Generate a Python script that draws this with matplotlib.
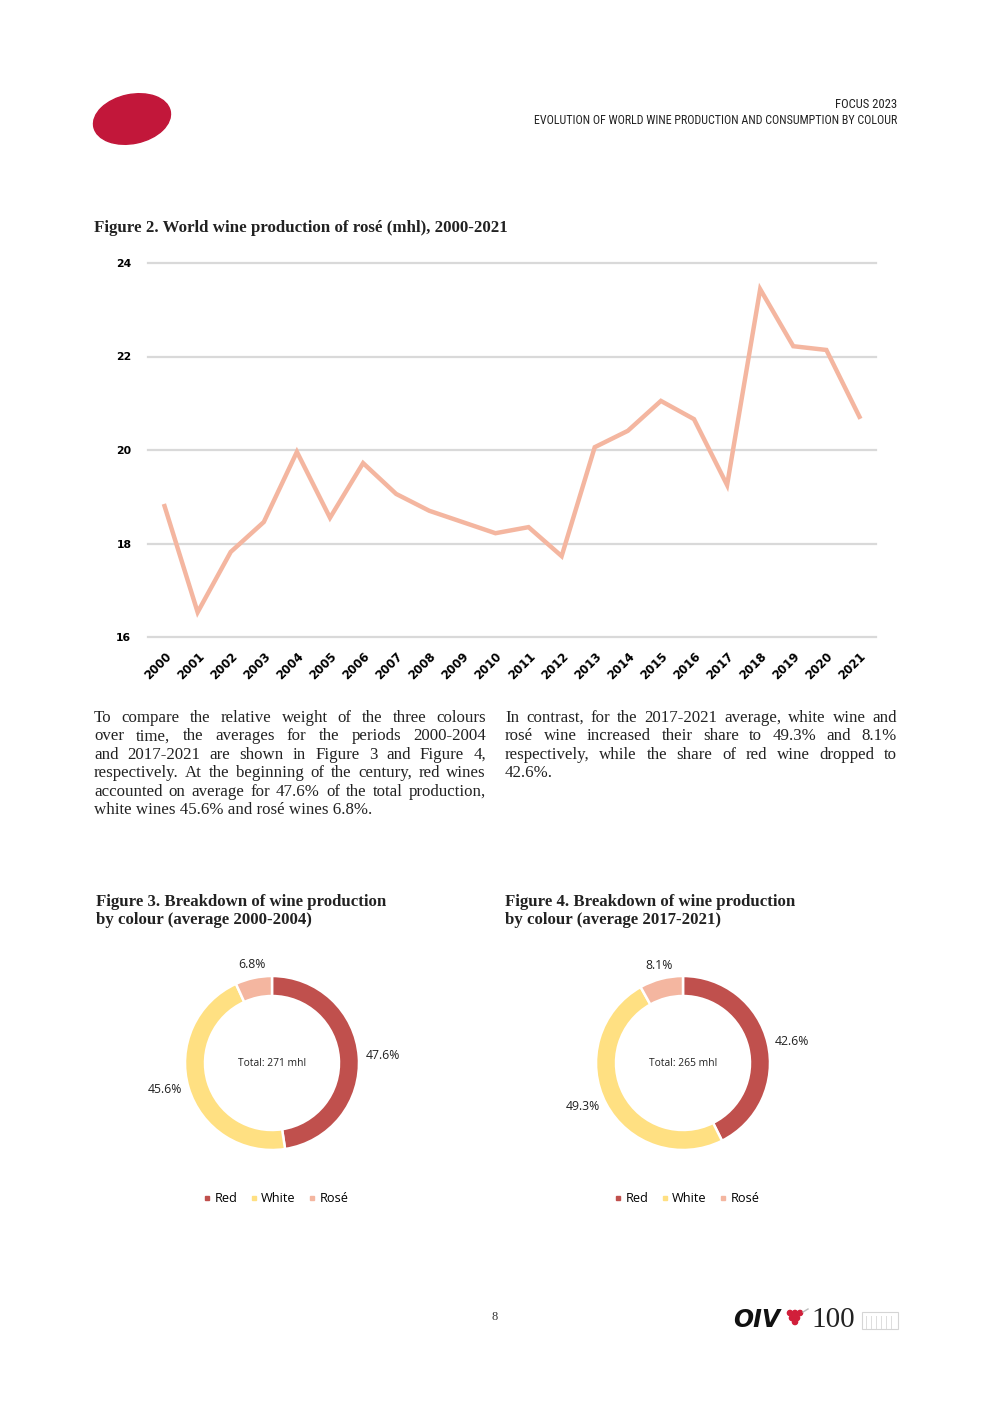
import matplotlib
matplotlib.use("Agg")
import numpy as np
import matplotlib.pyplot as plt
from matplotlib import font_manager
from matplotlib.patches import Ellipse, Circle, Rectangle
from matplotlib.lines import Line2D

###### DATA ######

years = ["2000", "2001", "2002", "2003", "2004", "2005", "2006", "2007", "2008", "2009", "2010",
         "2011", "2012", "2013", "2014", "2015", "2016", "2017", "2018", "2019", "2020", "2021"]
rose_mhl = [18.80, 16.53, 17.82, 18.46, 19.96, 18.55, 19.72, 19.06, 18.70, 18.46, 18.22,
            18.35, 17.73, 20.06, 20.41, 21.05, 20.66, 19.25, 23.44, 22.22, 22.14, 20.71]
y_ticks = [16, 18, 20, 22, 24]

colours = ["Red", "White", "Rosé"]
share_2000_2004 = [47.6, 45.6, 6.8]
share_2017_2021 = [42.6, 49.3, 8.1]
total_2000_2004 = "Total: 271 mhl"
total_2017_2021 = "Total: 265 mhl"

text_left = [
    "To compare the relative weight of the three colours",
    "over time, the averages for the periods 2000-2004",
    "and 2017-2021 are shown in Figure 3 and Figure 4,",
    "respectively. At the beginning of the century, red wines",
    "accounted on average for 47.6% of the total production,",
    "white wines 45.6% and rosé wines 6.8%.",
]
text_right = [
    "In contrast, for the 2017-2021 average, white wine and",
    "rosé wine increased their share to 49.3% and 8.1%",
    "respectively, while the share of red wine dropped to",
    "42.6%.",
]

###### STYLE ######

W, H = 992, 1403
RED, YELLOW, ROSE = "#C0504D", "#FFE082", "#F4B6A0"
GRID = "#D9D9D9"

ttf = font_manager.fontManager.ttflist
names = {f.name for f in ttf}

def pick(*cands):
    for c in cands:
        if c in names:
            return c
    return "DejaVu Sans"

SERIF = pick("Liberation Serif", "DejaVu Serif")
SANS = pick("Open Sans", "Lato", "DejaVu Sans")
if "Roboto Condensed" in names:
    NARROW, STRETCH = "Roboto Condensed", "normal"
elif "Liberation Sans Narrow" in names:
    NARROW, STRETCH = "Liberation Sans Narrow", "normal"
elif any("DejaVuSansCondensed" in f.fname for f in ttf):
    NARROW, STRETCH = "DejaVu Sans", "condensed"
else:
    NARROW, STRETCH = pick("Roboto", "DejaVu Sans"), "normal"

def px(x):
    return x / W

def py(y):
    return 1 - y / H

fig = plt.figure(figsize=(W / 100, H / 100), dpi=100)
fig.patch.set_facecolor("white")
renderer = fig.canvas.get_renderer()


def fit_text(x, y, s, width, **kw):
    # scale the font so the text spans the given pixel width
    t = fig.text(px(x), py(y), s, **kw)
    w = t.get_window_extent(renderer).width
    t.set_fontsize(t.get_fontsize() * width / w)
    return t


def justify(lines, x0, y0, width, dy, size, **kw):
    # shrink the font if a line would not fit with normal spaces
    for line in lines:
        t = fig.text(0, 0, line, fontsize=size, **kw)
        w = t.get_window_extent(renderer).width
        t.remove()
        if w > width * 0.985:
            size = size * width * 0.985 / w
    for i, line in enumerate(lines):
        y = y0 + i * dy
        if i == len(lines) - 1:
            fig.text(px(x0), py(y), line, va="center", fontsize=size, **kw)
            continue
        words = line.split()
        texts = [fig.text(0, 0, w, va="center", fontsize=size, **kw) for w in words]
        ws = [t.get_window_extent(renderer).width for t in texts]
        gap = (width - sum(ws)) / (len(words) - 1)
        x = x0
        for t, w in zip(texts, ws):
            t.set_position((px(x), py(y)))
            x += w + gap


###### HEADER ######

logo_ax = fig.add_axes([0, 0, 1, 1], zorder=-1)
logo_ax.set_xlim(0, W)
logo_ax.set_ylim(H, 0)
logo_ax.axis("off")
logo_ax.add_patch(Ellipse((132, 119), 78, 49, angle=-12, color="#C2173A"))

fit_text(897, 104, "FOCUS 2023", 62, ha="right", va="center", family=NARROW, fontsize=9,
         color="#222222", fontstretch=STRETCH)
fit_text(897, 120, "EVOLUTION OF WORLD WINE PRODUCTION AND CONSUMPTION BY COLOUR", 365,
         ha="right", va="center", family=NARROW, fontsize=9, color="#222222",
         fontstretch=STRETCH)

###### FIGURE 2: LINE ######

fit_text(94, 228, "Figure 2. World wine production of rosé (mhl), 2000-2021", 413,
         va="center", family=SERIF, fontweight="bold", fontsize=10.5, color="#222222")

ax = fig.add_axes([px(148), py(637), 728 / W, 374 / H])
x = range(len(years))
for t in y_ticks:
    ax.axhline(t, color=GRID, lw=1.6, zorder=0, clip_on=False)
ax.plot(x, rose_mhl, color=ROSE, lw=3.2, solid_joinstyle="miter", zorder=2)
ax.set_xlim(-0.5, len(years) - 0.5)
ax.set_ylim(16, 24)
ax.set_yticks(y_ticks)
ax.set_xticks(list(x))
ax.set_xticklabels(years, rotation=45, ha="right", va="top", rotation_mode="anchor",
                   fontweight="bold", fontsize=8.5, family="DejaVu Sans")
ax.set_yticklabels([str(t) for t in y_ticks], fontweight="bold", fontsize=7.8,
                   family="DejaVu Sans")
ax.tick_params(axis="both", length=0)
ax.tick_params(axis="y", pad=12)
ax.tick_params(axis="x", pad=9)
for s in ax.spines.values():
    s.set_visible(False)

###### BODY TEXT ######

justify(text_left, 94, 718, 392, 18.4, 12.2, family=SERIF, color="#222222")
justify(text_right, 505, 718, 392, 18.4, 12.2, family=SERIF, color="#222222")

###### FIGURES 3 & 4: DONUTS ######

def donut(cx, cy, shares, total, title, tx):
    t0 = fit_text(tx, 902, title[0], 290, va="center", family=SERIF, fontweight="bold",
                  fontsize=10.8, color="#222222")
    fig.text(px(tx), py(920), title[1], va="center", family=SERIF, fontweight="bold",
             fontsize=t0.get_fontsize(), color="#222222")
    size = 300
    r = 87
    a = fig.add_axes([px(cx - size / 2), py(cy + size / 2), size / W, size / H])
    wedges, _ = a.pie(shares, colors=[RED, YELLOW, ROSE], startangle=90, counterclock=False,
                      wedgeprops=dict(width=0.23, edgecolor="white", linewidth=1.8))
    # percentage labels just outside the ring, at the middle of each wedge
    for wdg, v in zip(wedges, shares):
        ang = np.deg2rad((wdg.theta1 + wdg.theta2) / 2)
        c, s = np.cos(ang), np.sin(ang)
        ha = "left" if c > 0.35 else ("right" if c < -0.35 else "center")
        va = "bottom" if s > 0.5 else ("top" if s < -0.5 else "center")
        a.text(1.08 * c, 1.08 * s, f"{v:.1f}%", ha=ha, va=va, fontsize=8.8,
               family=SANS, color="#222222")
    lim = size / 2 / r
    a.set_xlim(-lim, lim)
    a.set_ylim(-lim, lim)
    a.set_aspect("equal")
    a.axis("off")
    a.text(0, 0, total, ha="center", va="center", fontsize=7.4, family=SANS, color="#222222")
    handles = [Line2D([], [], marker="s", ls="", color=c, markersize=3.2) for c in [RED, YELLOW, ROSE]]
    fig.legend(handles, colours, loc="center", bbox_to_anchor=(px(cx + 4), py(1199)),
               ncol=3, frameon=False, handlelength=0.5, handletextpad=0.35,
               columnspacing=1.0, prop=dict(family=SANS, size=9.2))


donut(272, 1063, share_2000_2004, total_2000_2004,
      ["Figure 3. Breakdown of wine production", "by colour (average 2000-2004)"], 96)
donut(683, 1063, share_2017_2021, total_2017_2021,
      ["Figure 4. Breakdown of wine production", "by colour (average 2017-2021)"], 505)

###### FOOTER ######

fig.text(px(495), py(1317), "8", ha="center", va="center", family=SERIF, fontsize=9, color="#333333")
fig.text(px(733), py(1320), "OIV", ha="left", va="center", family="DejaVu Sans",
         fontweight="heavy", fontstyle="italic", fontsize=17, color="#111111")
for gx, gy in [(790, 1313), (795, 1313), (800, 1313), (792, 1318), (797, 1318), (795, 1322)]:
    logo_ax.add_patch(Circle((gx, gy), 2.6, color="#D11F3A"))
logo_ax.plot([803, 808], [1312, 1309], color="#BBBBBB", lw=1)
fig.text(px(811), py(1320), "100", ha="left", va="center", family=SERIF, fontsize=21, color="#222222")
logo_ax.add_patch(Rectangle((862, 1312), 36, 17, fill=False, ec="#D5D5D5", lw=0.8))
for bx in range(866, 896, 5):
    logo_ax.plot([bx, bx], [1316, 1328], color="#DDDDDD", lw=0.7)

fig.savefig("out.png", dpi=100)
